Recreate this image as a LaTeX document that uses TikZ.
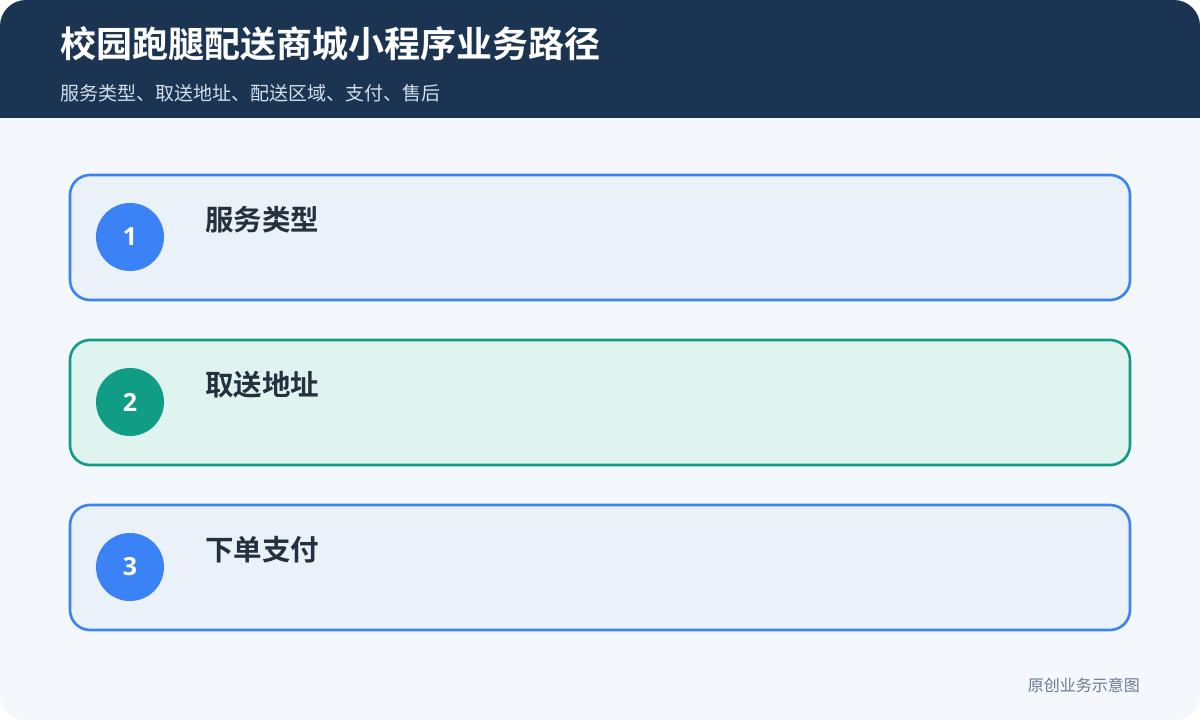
\documentclass[tikz,border=0pt]{standalone}
\usepackage{fontspec}
\newfontfamily\cjk{Noto Sans CJK SC}
\newfontfamily\cjkb{Noto Sans CJK SC Bold}
\newfontfamily\numf{Open Sans}
\definecolor{hdr}{HTML}{1B3452}
\definecolor{bg}{HTML}{F4F8FC}
\definecolor{blueS}{HTML}{3B82F6}
\definecolor{blueF}{HTML}{EAF1F9}
\definecolor{tealS}{HTML}{119C86}
\definecolor{tealF}{HTML}{DFF3EF}
\definecolor{txt}{HTML}{25303F}
\definecolor{sub}{HTML}{D5DEEA}
\definecolor{foot}{HTML}{6B7A90}
\tikzset{
  card/.style={draw, line width=2.6pt, rounded corners=20pt},
  num/.style={circle, minimum size=68pt, inner sep=0pt, text=white, font=\numf\bfseries\fontsize{25}{25}\selectfont},
  ttl/.style={anchor=west, text=txt, font=\cjkb\fontsize{28.5}{28.5}\selectfont, inner sep=0pt}
}
\begin{document}
\begin{tikzpicture}[x=1pt,y=-1pt]
\useasboundingbox (0,0) rectangle (1200,720);
\fill[white] (0,0) rectangle (1200,720);
\begin{scope}
\clip[rounded corners=26pt] (0,0) rectangle (1200,720);
\fill[bg] (0,0) rectangle (1200,720);
\fill[hdr] (0,0) rectangle (1200,118);
\end{scope}
\node[anchor=west, text=white, inner sep=0pt, font=\cjkb\fontsize{36}{36}\selectfont] (title) at (60,44) {校园跑腿配送商城小程序业务路径};
\node[anchor=west, text=sub, inner sep=0pt, font=\cjk\fontsize{19}{19}\selectfont] (subtitle) at (60,93) {服务类型、取送地址、配送区域、支付、售后};
% cards
\path[card, draw=blueS, fill=blueF] (70,175) rectangle (1130,300);
\node[num, fill=blueS] (n1) at (130,237) {1};
\node[ttl] (t1) at (205,220) {服务类型};
\path[card, draw=tealS, fill=tealF] (70,340) rectangle (1130,465);
\node[num, fill=tealS] (n2) at (130,402) {2};
\node[ttl] (t2) at (205,385) {取送地址};
\path[card, draw=blueS, fill=blueF] (70,505) rectangle (1130,630);
\node[num, fill=blueS] (n3) at (130,567) {3};
\node[ttl] (t3) at (205,550) {下单支付};
\node[anchor=east, text=foot, inner sep=0pt, font=\cjk\fontsize{16}{16}\selectfont] (footer) at (1140,685) {原创业务示意图};
\end{tikzpicture}
\end{document}
